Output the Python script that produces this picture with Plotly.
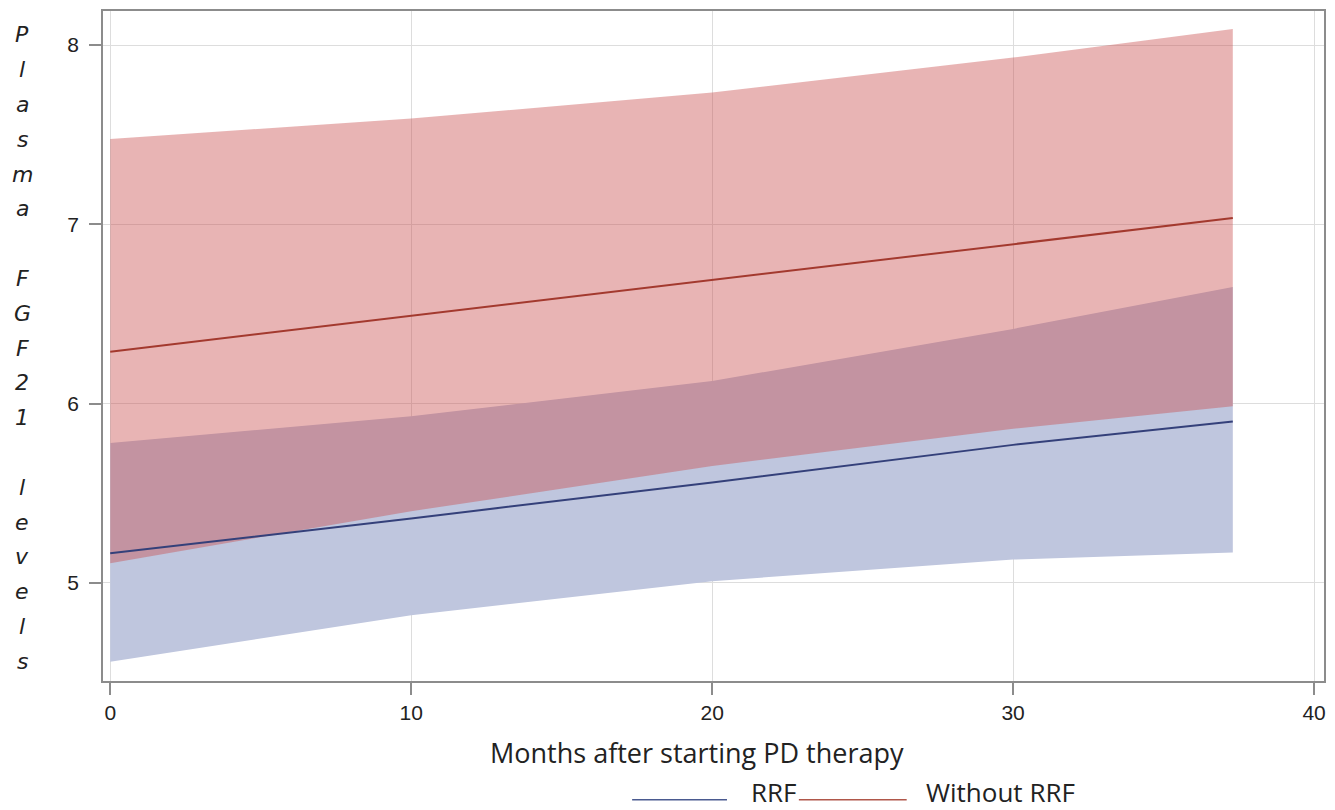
import plotly.graph_objects as go

# ---- data ----
months = [0, 10, 20, 30, 37.3]

rrf_mean = [5.165, 5.36, 5.56, 5.77, 5.90]
rrf_upper = [5.78, 5.93, 6.126, 6.417, 6.65]
rrf_lower = [4.56, 4.82, 5.01, 5.13, 5.17]

norrf_mean = [6.29, 6.49, 6.69, 6.89, 7.035]
norrf_upper = [7.476, 7.59, 7.736, 7.93, 8.09]
norrf_lower = [5.11, 5.40, 5.652, 5.86, 5.985]

x_ticks = [0, 10, 20, 30, 40]
y_ticks = [5, 6, 7, 8]

series_names = ["RRF", "Without RRF"]
x_title = "Months after starting PD therapy"
y_title = "Plasma FGF21 levels"

# ---- styles ----
W, H = 1335, 810
L, R, T, B = 103, 9, 9, 129
blue_fill = "rgb(191,198,222)"
red_fill = "rgba(200,76,76,0.42)"
blue_line = "#34407a"
red_line = "#a3392e"
font_main = "Open Sans"
font_ticks = "Liberation Sans"

fig = go.Figure()

# RRF band
fig.add_trace(go.Scatter(x=months, y=rrf_lower, mode="lines", line=dict(width=0),
                         showlegend=False, hoverinfo="skip"))
fig.add_trace(go.Scatter(x=months, y=rrf_upper, mode="lines", line=dict(width=0),
                         fill="tonexty", fillcolor=blue_fill, showlegend=False, hoverinfo="skip"))
# Without RRF band
fig.add_trace(go.Scatter(x=months, y=norrf_lower, mode="lines", line=dict(width=0),
                         showlegend=False, hoverinfo="skip"))
fig.add_trace(go.Scatter(x=months, y=norrf_upper, mode="lines", line=dict(width=0),
                         fill="tonexty", fillcolor=red_fill, showlegend=False, hoverinfo="skip"))
# Mean lines
fig.add_trace(go.Scatter(x=months, y=rrf_mean, mode="lines", name=series_names[0],
                         line=dict(color=blue_line, width=2), showlegend=False))
fig.add_trace(go.Scatter(x=months, y=norrf_mean, mode="lines", name=series_names[1],
                         line=dict(color=red_line, width=2), showlegend=False))

plot_w = W - L - R
plot_h = H - T - B


def px_to_paper_x(px):
    return (px - L) / plot_w


def px_to_paper_y(py):
    return (H - B - py) / plot_h


annotations = []
shapes = []

# x-axis title
annotations.append(dict(text=x_title, x=px_to_paper_x(698), y=px_to_paper_y(753),
                        xref="paper", yref="paper", xanchor="center", yanchor="middle",
                        showarrow=False, font=dict(family=font_main, size=27, color="#222")))

# vertical stacked italic y-axis title
letters = []
for word_i, word in enumerate(y_title.split(" ")):
    if word_i > 0:
        letters.append("")
    letters.extend(list(word))
for i, ch in enumerate(letters):
    if not ch:
        continue
    annotations.append(dict(text=f"<i>{ch}</i>", x=px_to_paper_x(22), y=px_to_paper_y(33 + i * 34.9),
                            xref="paper", yref="paper", xanchor="center", yanchor="middle",
                            showarrow=False, font=dict(family="DejaVu Sans", size=22, color="#222")))

# custom legend
leg_y = px_to_paper_y(800)
shapes.append(dict(type="line", xref="paper", yref="paper", x0=px_to_paper_x(633), x1=px_to_paper_x(728),
                   y0=leg_y, y1=leg_y, line=dict(color="#4a5a90", width=1.5)))
annotations.append(dict(text=series_names[0], x=px_to_paper_x(750), y=px_to_paper_y(792),
                        xref="paper", yref="paper", xanchor="left", yanchor="middle",
                        showarrow=False, font=dict(family=font_main, size=26, color="#222")))
shapes.append(dict(type="line", xref="paper", yref="paper", x0=px_to_paper_x(800), x1=px_to_paper_x(908),
                   y0=leg_y, y1=leg_y, line=dict(color="#b0574a", width=1.5)))
annotations.append(dict(text=series_names[1], x=px_to_paper_x(925), y=px_to_paper_y(792),
                        xref="paper", yref="paper", xanchor="left", yanchor="middle",
                        showarrow=False, font=dict(family=font_main, size=26, color="#222")))

axis_common = dict(showline=True, linecolor="#8c8c8c", linewidth=1.5, mirror=True,
                   showgrid=True, gridcolor="#dddddd", gridwidth=1,
                   ticks="outside", ticklen=12, tickcolor="#8c8c8c", tickwidth=1.5,
                   zeroline=False, tickfont=dict(family=font_ticks, size=21, color="#222"))

fig.update_layout(
    width=W, height=H,
    margin=dict(l=L, r=R, t=T, b=B),
    paper_bgcolor="white", plot_bgcolor="white",
    showlegend=False,
    xaxis=dict(range=[-0.24, 40.33], tickvals=x_ticks, **axis_common),
    yaxis=dict(range=[4.453, 8.19], tickvals=y_ticks, ticklabelstandoff=6, **axis_common),
    annotations=annotations,
    shapes=shapes,
)

fig.write_html("out.html", config={"displayModeBar": False},
               post_script="document.body.style.margin='0';document.body.style.overflow='hidden';")
